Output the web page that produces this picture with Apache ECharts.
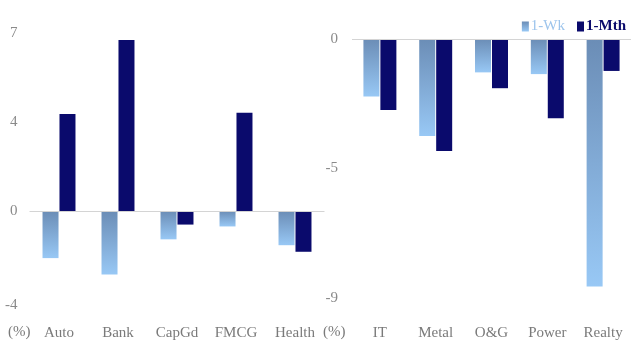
<!DOCTYPE html>
<html>
<head>
<meta charset="utf-8">
<script src="https://cdn.jsdelivr.net/npm/echarts@6/dist/echarts.min.js"></script>
<style>html,body{margin:0;padding:0;background:#fff}#c{width:631px;height:344px}</style>
</head>
<body>
<div id="c"></div>
<script>
// ---- data ----
var leftCategories = ['Auto', 'Bank', 'CapGd', 'FMCG', 'Health'];
var leftWk  = [-2.0, -2.7, -1.2, -0.65, -1.45];
var leftMth = [4.15, 7.3, -0.57, 4.2, -1.73];
var leftTickValues = [-4, 0, 3.8, 7.6];
var leftTickLabels = ['-4', '0', '4', '7'];

var rightCategories = ['IT', 'Metal', 'O&G', 'Power', 'Realty'];
var rightWk  = [-2.0, -3.37, -1.16, -1.22, -8.6];
var rightMth = [-2.47, -3.89, -1.71, -2.75, -1.11];
var rightTickValues = [0, -4.5, -9];
var rightTickLabels = ['0', '-5', '-9'];

var seriesNames = ['1-Wk', '1-Mth'];
var unitLabel = '(%)';

// ---- styles ----
var FONT = '"Liberation Serif", "DejaVu Serif", serif';
var wkColor = new echarts.graphic.LinearGradient(0, 0, 0, 1, [
  { offset: 0, color: '#6b8db6' },
  { offset: 1, color: '#98c8f5' }
]);
var mthColor = '#0a0a6c';
var zeroLine = {
  silent: true, symbol: 'none', label: { show: false },
  lineStyle: { color: '#d4d4d4', type: 'solid', width: 1 },
  data: [{ yAxis: 0 }]
};

function labelFrom(values, labels) {
  return function (v) {
    for (var i = 0; i < values.length; i++) {
      if (Math.abs(values[i] - v) < 1e-6) return labels[i];
    }
    return '';
  };
}

function yAxis(gridIndex, min, max, vals, labs, margin) {
  return {
    type: 'value', gridIndex: gridIndex, min: min, max: max,
    splitLine: { show: false }, axisLine: { show: false }, axisTick: { show: false },
    axisLabel: {
      customValues: vals, formatter: labelFrom(vals, labs),
      color: '#8a8a8a', fontFamily: FONT, fontSize: 15, margin: margin
    }
  };
}
function xAxis(gridIndex, cats, margin) {
  return {
    type: 'category', gridIndex: gridIndex, data: cats,
    axisLine: { show: false }, axisTick: { show: false }, splitLine: { show: false },
    axisLabel: { color: '#7a7a7a', fontFamily: FONT, fontSize: 15, margin: margin, interval: 0 }
  };
}
function bar(name, xi, data, color, withLine) {
  var s = {
    name: name, type: 'bar', xAxisIndex: xi, yAxisIndex: xi, data: data,
    barWidth: 16, barGap: '6%',
    itemStyle: { color: color }
  };
  if (withLine) s.markLine = zeroLine;
  return s;
}

var chart = echarts.init(document.getElementById('c'), null, { renderer: 'canvas' });
chart.setOption({
  animation: false,
  backgroundColor: '#ffffff',
  textStyle: { fontFamily: FONT },
  legend: {
    right: 0, top: 14, itemWidth: 7, itemHeight: 10, itemGap: 12,
    icon: 'rect',
    textStyle: { fontFamily: FONT, fontSize: 15, padding: [0, 0, 0, -3] },
    data: [
      { name: seriesNames[0], textStyle: { color: '#9cc4ec' } },
      { name: seriesNames[1], textStyle: { color: '#0a0a6c', fontWeight: 'bold' } }
    ]
  },
  grid: [
    { left: 29.5, width: 295, top: 33, height: 272 },
    { left: 352, width: 285, top: 39, height: 259 }
  ],
  xAxis: [xAxis(0, leftCategories, 21), xAxis(1, rightCategories, 28)],
  yAxis: [
    yAxis(0, leftTickValues[0], leftTickValues[leftTickValues.length - 1], leftTickValues, leftTickLabels, 12),
    yAxis(1, rightTickValues[2], rightTickValues[0], rightTickValues, rightTickLabels, 14)
  ],
  graphic: [
    { type: 'text', left: 8, top: 325, style: { text: unitLabel, fill: '#7a7a7a', font: '15px ' + FONT } },
    { type: 'text', left: 323, top: 325, style: { text: unitLabel, fill: '#7a7a7a', font: '15px ' + FONT } }
  ],
  series: [
    bar(seriesNames[0], 0, leftWk, wkColor, true),
    bar(seriesNames[1], 0, leftMth, mthColor, false),
    bar(seriesNames[0], 1, rightWk, wkColor, true),
    bar(seriesNames[1], 1, rightMth, mthColor, false)
  ]
});
</script>
</body>
</html>
